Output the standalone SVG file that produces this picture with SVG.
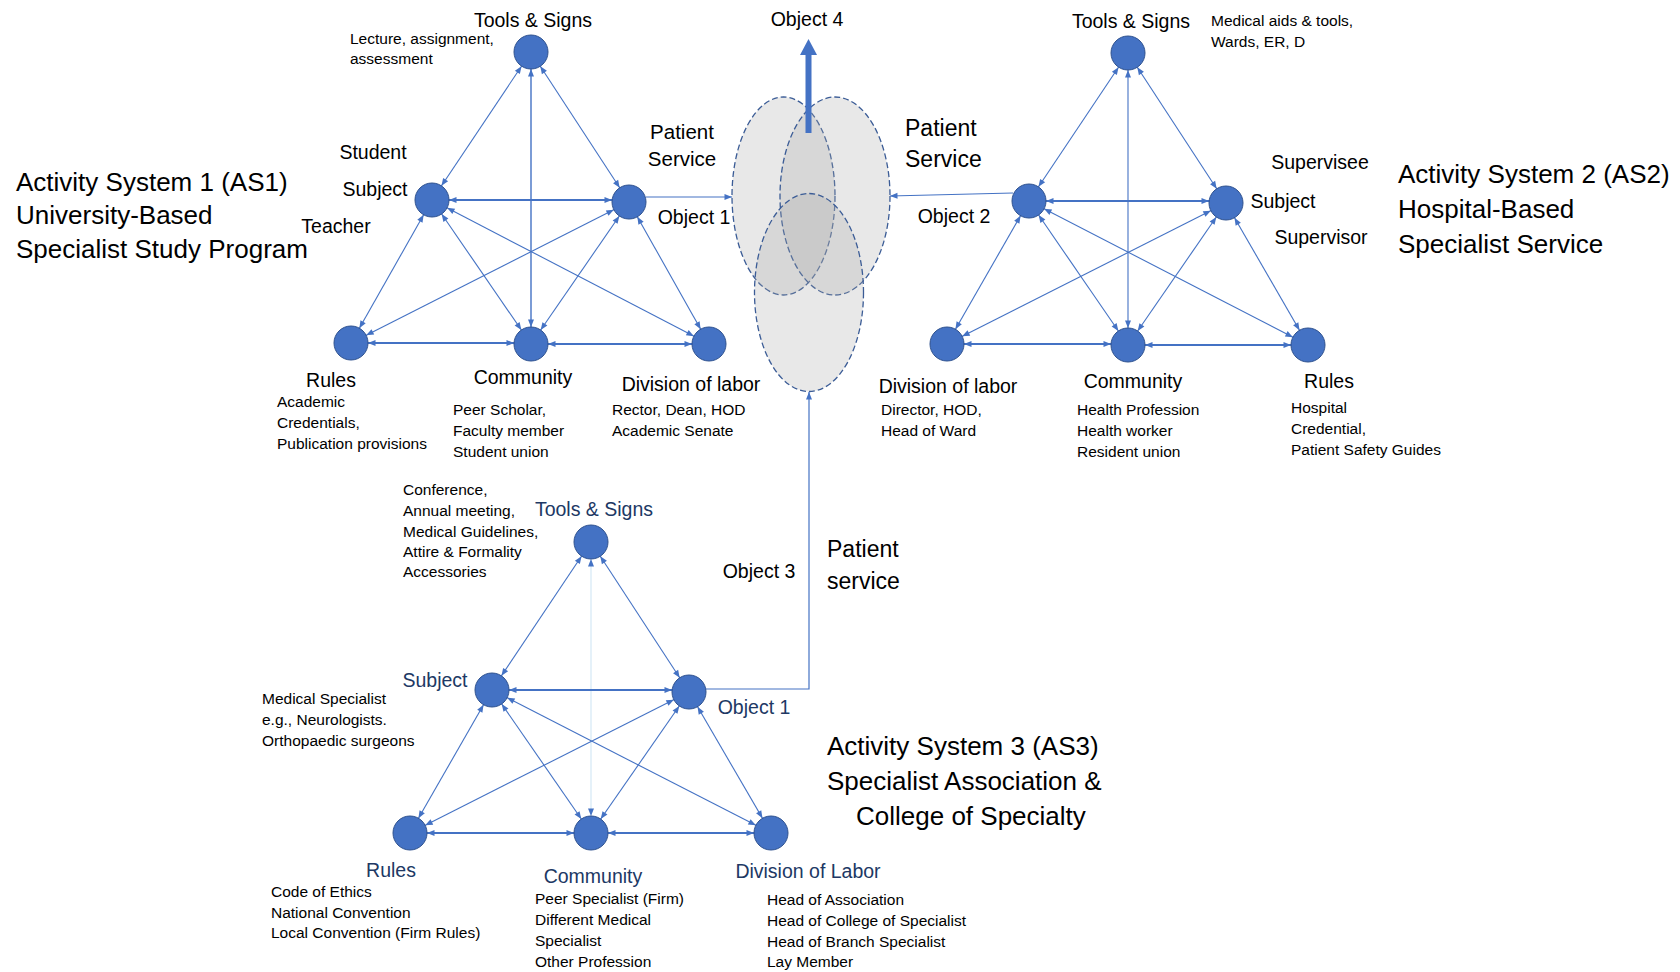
<svg xmlns="http://www.w3.org/2000/svg" width="1680" height="972" viewBox="0 0 1680 972">
  <style>
    text { font-family: "Liberation Sans", Arial, sans-serif; fill: #000; }
    .lbl { font-size: 19.5px; }
    .lbl.c { text-anchor: middle; }
    .nv { fill: #203864; }
    .sm { font-size: 15.5px; }
    .big { font-size: 23px; }
    .title { font-size: 26px; }
    .node { fill: #4472c4; stroke: #2f528f; stroke-width: 1; }
    .edge { stroke: #4472c4; stroke-width: 1.1; fill: none; marker-start: url(#ah); marker-end: url(#ah); }
    .edge.h { stroke-width: 1.8; }
    .edge.v { stroke-width: 1.4; }
    .edge.pale { stroke: #cfe6f5; }
    .link { stroke: #4472c4; stroke-width: 1.2; fill: none; marker-end: url(#tip); }
    .oval { fill: #a6a6a6; fill-opacity: 0.26; stroke: #3b5c96; stroke-width: 1.3; stroke-dasharray: 6 3; }
  </style>
  <defs>
    <!-- arrowhead whose tip stops 17px short of the path end (node radius) -->
    <marker id="ah" markerUnits="userSpaceOnUse" markerWidth="30" markerHeight="8" refX="24.5" refY="4" orient="auto-start-reverse" overflow="visible">
      <path d="M0,1 L7.5,4 L0,7 z" fill="#4472c4"/>
    </marker>
    <!-- arrowhead whose tip sits exactly on the path end -->
    <marker id="tip" markerUnits="userSpaceOnUse" markerWidth="8" markerHeight="8" refX="7.5" refY="4" orient="auto" overflow="visible">
      <path d="M0,1 L7.5,4 L0,7 z" fill="#4472c4"/>
    </marker>
  </defs>

  <rect width="1680" height="972" fill="#fff"/>

  <!-- shared object: three overlapping dashed ovals -->
  <g id="shared-object">
    <ellipse class="oval" cx="783.5" cy="196" rx="51.5" ry="99"/>
    <ellipse class="oval" cx="835" cy="196" rx="55" ry="99"/>
    <ellipse class="oval" cx="809" cy="292.5" rx="54.5" ry="99"/>
  </g>

  <g id="connectors">
    <!-- AS1 triangle -->
    <line class="edge" x1="531" y1="52" x2="432" y2="200"/>
    <line class="edge" x1="531" y1="52" x2="629" y2="202"/>
    <line class="edge v" x1="531" y1="52" x2="531" y2="344"/>
    <line class="edge h" x1="432" y1="200" x2="629" y2="200"/>
    <line class="edge" x1="432" y1="200" x2="351" y2="343"/>
    <line class="edge" x1="432" y1="200" x2="531" y2="344"/>
    <line class="edge" x1="432" y1="200" x2="709" y2="344"/>
    <line class="edge" x1="629" y1="202" x2="351" y2="343"/>
    <line class="edge" x1="629" y1="202" x2="531" y2="344"/>
    <line class="edge" x1="629" y1="202" x2="709" y2="344"/>
    <line class="edge h" x1="351" y1="343" x2="531" y2="343"/>
    <line class="edge h" x1="531" y1="344" x2="709" y2="344"/>

    <!-- AS2 triangle -->
    <line class="edge" x1="1128" y1="53" x2="1029" y2="201"/>
    <line class="edge" x1="1128" y1="53" x2="1226" y2="203"/>
    <line class="edge" x1="1128" y1="53" x2="1128" y2="345"/>
    <line class="edge h" x1="1029" y1="201" x2="1226" y2="201"/>
    <line class="edge" x1="1029" y1="201" x2="947" y2="344"/>
    <line class="edge" x1="1029" y1="201" x2="1128" y2="345"/>
    <line class="edge" x1="1029" y1="201" x2="1308" y2="345"/>
    <line class="edge" x1="1226" y1="203" x2="947" y2="344"/>
    <line class="edge" x1="1226" y1="203" x2="1128" y2="345"/>
    <line class="edge" x1="1226" y1="203" x2="1308" y2="345"/>
    <line class="edge h" x1="947" y1="344" x2="1128" y2="344"/>
    <line class="edge h" x1="1128" y1="345" x2="1308" y2="345"/>

    <!-- AS3 triangle -->
    <line class="edge" x1="591" y1="542" x2="492" y2="690"/>
    <line class="edge" x1="591" y1="542" x2="689" y2="692"/>
    <line class="edge pale" x1="591" y1="542" x2="591" y2="833"/>
    <line class="edge h" x1="492" y1="690" x2="689" y2="690"/>
    <line class="edge" x1="492" y1="690" x2="410" y2="833"/>
    <line class="edge" x1="492" y1="690" x2="591" y2="833"/>
    <line class="edge" x1="492" y1="690" x2="771" y2="833"/>
    <line class="edge" x1="689" y1="692" x2="410" y2="833"/>
    <line class="edge" x1="689" y1="692" x2="591" y2="833"/>
    <line class="edge" x1="689" y1="692" x2="771" y2="833"/>
    <line class="edge h" x1="410" y1="833" x2="591" y2="833"/>
    <line class="edge h" x1="591" y1="833" x2="771" y2="833"/>

    <!-- objects feeding the shared object -->
    <path class="link" d="M646,197 H732"/>
    <path class="link" d="M1013,193 L890,196"/>
    <path class="link" d="M705,689 H809 V392"/>

    <!-- Object 4 outcome arrow -->
    <rect x="805.5" y="54" width="6" height="79" fill="#4472c4"/>
    <polygon points="808.5,39 817,55 800,55" fill="#4472c4"/>
  </g>

  <text id="object4-label" class="lbl c" x="807" y="26">Object 4</text>

  <!-- ===== Activity System 1 ===== -->
  <g id="as1-title">
    <text class="title" x="16" y="191">Activity System 1 (AS1)</text>
    <text class="title" x="16" y="224">University-Based</text>
    <text class="title" x="16" y="258">Specialist Study Program</text>
  </g>
  <g id="as1-tools">
    <circle class="node" cx="531" cy="52" r="17"/>
    <text class="lbl c" x="533" y="27">Tools &amp; Signs</text>
    <text class="sm" x="350" y="44">Lecture, assignment,</text>
    <text class="sm" x="350" y="64">assessment</text>
  </g>
  <g id="as1-subject">
    <circle class="node" cx="432" cy="200" r="17"/>
    <text class="lbl c" x="373" y="159">Student</text>
    <text class="lbl c" x="375" y="196">Subject</text>
    <text class="lbl c" x="336" y="233">Teacher</text>
  </g>
  <g id="as1-object">
    <circle class="node" cx="629" cy="202" r="17"/>
    <text class="lbl c" x="682" y="139" style="font-size:20.5px">Patient</text>
    <text class="lbl c" x="682" y="166" style="font-size:20.5px">Service</text>
    <text class="lbl c" x="694" y="224">Object 1</text>
  </g>
  <g id="as1-rules">
    <circle class="node" cx="351" cy="343" r="17"/>
    <text class="lbl c" x="331" y="387">Rules</text>
    <text class="sm" x="277" y="407">Academic</text>
    <text class="sm" x="277" y="428">Credentials,</text>
    <text class="sm" x="277" y="449">Publication provisions</text>
  </g>
  <g id="as1-community">
    <circle class="node" cx="531" cy="344" r="17"/>
    <text class="lbl c" x="523" y="384">Community</text>
    <text class="sm" x="453" y="415">Peer Scholar,</text>
    <text class="sm" x="453" y="436">Faculty member</text>
    <text class="sm" x="453" y="457">Student union</text>
  </g>
  <g id="as1-division">
    <circle class="node" cx="709" cy="344" r="17"/>
    <text class="lbl c" x="691" y="391">Division of labor</text>
    <text class="sm" x="612" y="415">Rector, Dean, HOD</text>
    <text class="sm" x="612" y="436">Academic Senate</text>
  </g>

  <!-- ===== Activity System 2 ===== -->
  <g id="as2-title">
    <text class="title" x="1398" y="183">Activity System 2 (AS2)</text>
    <text class="title" x="1398" y="218">Hospital-Based</text>
    <text class="title" x="1398" y="253">Specialist Service</text>
  </g>
  <g id="as2-tools">
    <circle class="node" cx="1128" cy="53" r="17"/>
    <text class="lbl c" x="1131" y="28">Tools &amp; Signs</text>
    <text class="sm" x="1211" y="26">Medical aids &amp; tools,</text>
    <text class="sm" x="1211" y="47">Wards, ER, D</text>
  </g>
  <g id="as2-object">
    <circle class="node" cx="1029" cy="201" r="17"/>
    <text class="big" x="905" y="136">Patient</text>
    <text class="big" x="905" y="167">Service</text>
    <text class="lbl c" x="954" y="223">Object 2</text>
  </g>
  <g id="as2-subject">
    <circle class="node" cx="1226" cy="203" r="17"/>
    <text class="lbl c" x="1320" y="169">Supervisee</text>
    <text class="lbl c" x="1283" y="208">Subject</text>
    <text class="lbl c" x="1321" y="244">Supervisor</text>
  </g>
  <g id="as2-division">
    <circle class="node" cx="947" cy="344" r="17"/>
    <text class="lbl c" x="948" y="393">Division of labor</text>
    <text class="sm" x="881" y="415">Director, HOD,</text>
    <text class="sm" x="881" y="436">Head of Ward</text>
  </g>
  <g id="as2-community">
    <circle class="node" cx="1128" cy="345" r="17"/>
    <text class="lbl c" x="1133" y="388">Community</text>
    <text class="sm" x="1077" y="415">Health Profession</text>
    <text class="sm" x="1077" y="436">Health worker</text>
    <text class="sm" x="1077" y="457">Resident union</text>
  </g>
  <g id="as2-rules">
    <circle class="node" cx="1308" cy="345" r="17"/>
    <text class="lbl c" x="1329" y="388">Rules</text>
    <text class="sm" x="1291" y="413">Hospital</text>
    <text class="sm" x="1291" y="434">Credential,</text>
    <text class="sm" x="1291" y="455">Patient Safety Guides</text>
  </g>

  <!-- ===== Activity System 3 ===== -->
  <g id="as3-title">
    <text class="title" x="827" y="755">Activity System 3 (AS3)</text>
    <text class="title" x="827" y="790">Specialist Association &amp;</text>
    <text class="title" x="856" y="825">College of Specialty</text>
  </g>
  <g id="as3-tools">
    <circle class="node" cx="591" cy="542" r="17"/>
    <text class="lbl c nv" x="594" y="516">Tools &amp; Signs</text>
    <text class="sm" x="403" y="495">Conference,</text>
    <text class="sm" x="403" y="516">Annual meeting,</text>
    <text class="sm" x="403" y="537">Medical Guidelines,</text>
    <text class="sm" x="403" y="557">Attire &amp; Formality</text>
    <text class="sm" x="403" y="577">Accessories</text>
  </g>
  <g id="as3-subject">
    <circle class="node" cx="492" cy="690" r="17"/>
    <text class="lbl c nv" x="435" y="687">Subject</text>
    <text class="sm" x="262" y="704">Medical Specialist</text>
    <text class="sm" x="262" y="725">e.g., Neurologists.</text>
    <text class="sm" x="262" y="746">Orthopaedic surgeons</text>
  </g>
  <g id="as3-object">
    <circle class="node" cx="689" cy="692" r="17"/>
    <text class="lbl c nv" x="754" y="714">Object 1</text>
    <text class="lbl c" x="759" y="578">Object 3</text>
    <text class="big" x="827" y="557">Patient</text>
    <text class="big" x="827" y="589">service</text>
  </g>
  <g id="as3-rules">
    <circle class="node" cx="410" cy="833" r="17"/>
    <text class="lbl c nv" x="391" y="877">Rules</text>
    <text class="sm" x="271" y="897">Code of Ethics</text>
    <text class="sm" x="271" y="918">National Convention</text>
    <text class="sm" x="271" y="938">Local Convention (Firm Rules)</text>
  </g>
  <g id="as3-community">
    <circle class="node" cx="591" cy="833" r="17"/>
    <text class="lbl c nv" x="593" y="883">Community</text>
    <text class="sm" x="535" y="904">Peer Specialist (Firm)</text>
    <text class="sm" x="535" y="925">Different Medical</text>
    <text class="sm" x="535" y="946">Specialist</text>
    <text class="sm" x="535" y="967">Other Profession</text>
  </g>
  <g id="as3-division">
    <circle class="node" cx="771" cy="833" r="17"/>
    <text class="lbl c nv" x="808" y="878">Division of Labor</text>
    <text class="sm" x="767" y="905">Head of Association</text>
    <text class="sm" x="767" y="926">Head of College of Specialist</text>
    <text class="sm" x="767" y="947">Head of Branch Specialist</text>
    <text class="sm" x="767" y="967">Lay Member</text>
  </g>
</svg>
